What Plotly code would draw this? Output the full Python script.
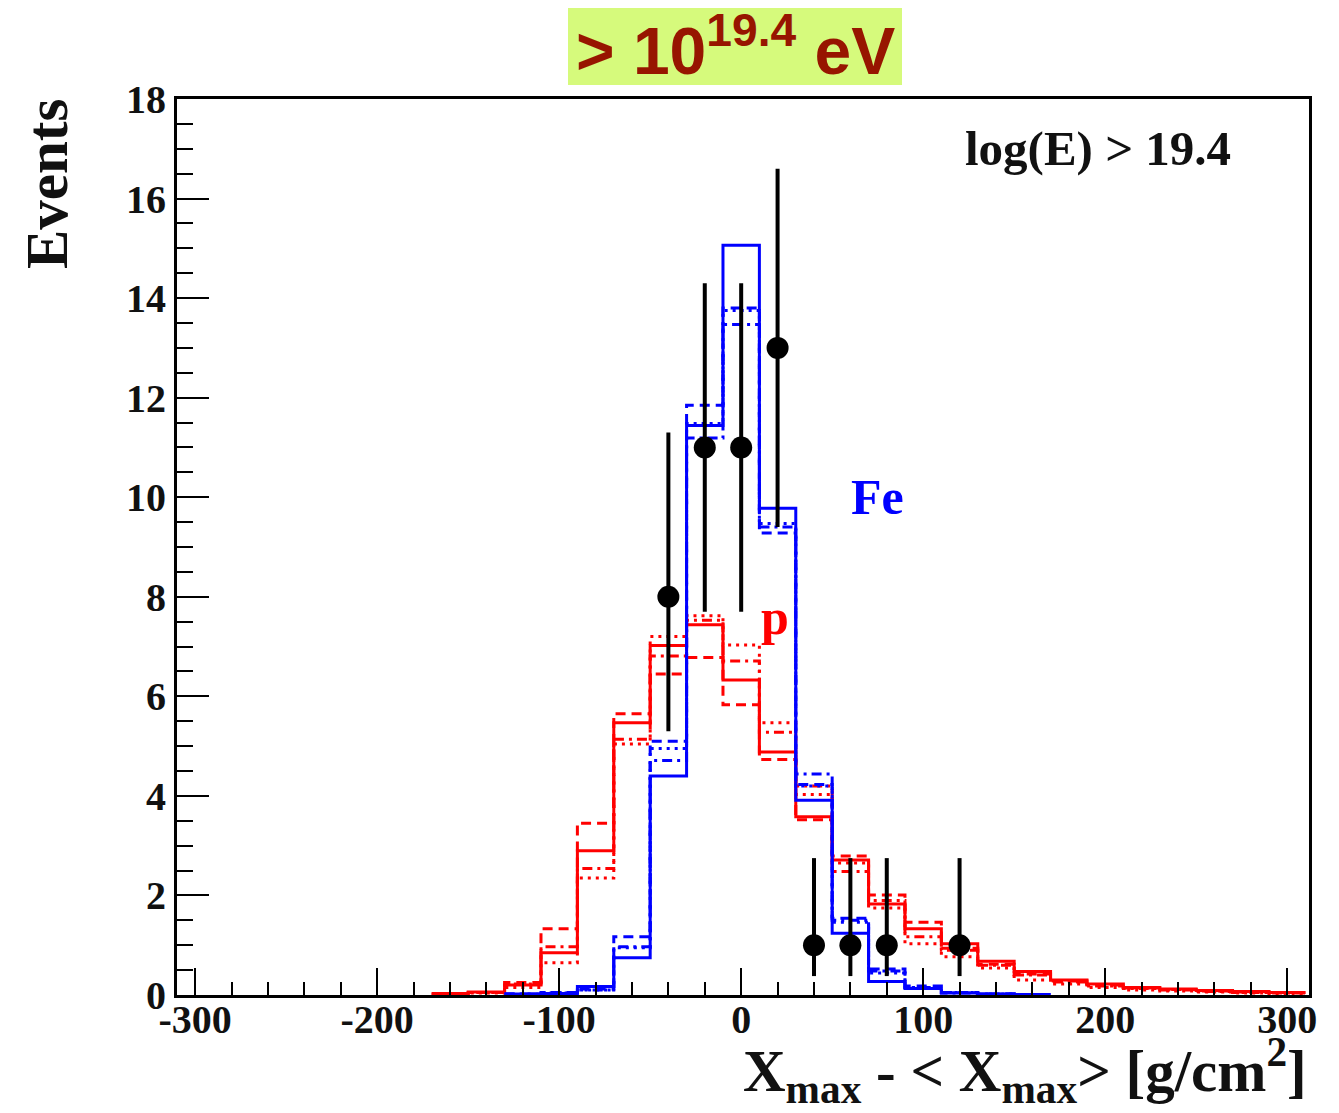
import plotly.graph_objects as go

# ---------------- data ----------------
p_centers = [-160, -140, -120, -100, -80, -60, -40, -20, 0, 20, 40, 60, 80,
             100, 120, 140, 160, 180, 200, 220, 240, 260, 280, 300]
p_solid = [0.03, 0.06, 0.20, 0.85, 2.90, 5.47, 7.02, 7.44, 6.33, 4.88, 3.58, 2.71, 1.83,
           1.33, 1.03, 0.68, 0.47, 0.30, 0.22, 0.15, 0.12, 0.09, 0.07, 0.05]
p_dashed = [0.02, 0.05, 0.25, 1.33, 3.45, 5.65, 6.45, 6.78, 5.83, 4.73, 3.52, 2.79, 2.01,
            1.46, 0.94, 0.62, 0.42, 0.28, 0.20, 0.14, 0.11, 0.08, 0.06, 0.05]
p_dashdot = [0.02, 0.05, 0.22, 0.97, 2.54, 5.14, 6.81, 7.53, 6.71, 5.28, 4.20, 2.48, 1.90,
             1.17, 0.90, 0.60, 0.40, 0.26, 0.18, 0.13, 0.10, 0.07, 0.05, 0.04]
p_dotted = [0.02, 0.04, 0.15, 0.65, 2.35, 5.04, 7.20, 7.62, 7.03, 5.47, 4.03, 2.65, 1.75,
            1.03, 0.77, 0.54, 0.30, 0.22, 0.15, 0.10, 0.08, 0.06, 0.04, 0.03]

fe_centers = [-120, -100, -80, -60, -40, -20, 0, 20, 40, 60, 80, 100, 120, 140, 160]
fe_solid = [0.02, 0.03, 0.17, 0.75, 4.40, 11.44, 15.06, 9.78, 3.91, 1.24, 0.27, 0.13, 0.04, 0.02, 0.01]
fe_dashed = [0.02, 0.05, 0.12, 1.17, 5.10, 11.85, 13.80, 9.28, 4.23, 1.54, 0.52, 0.18, 0.05, 0.02, 0.01]
fe_dashdot = [0.02, 0.04, 0.10, 0.97, 4.71, 11.19, 13.47, 9.40, 4.44, 1.50, 0.48, 0.15, 0.04, 0.02, 0.01]
fe_dotted = [0.01, 0.05, 0.10, 0.95, 4.95, 11.48, 13.75, 9.47, 4.20, 1.46, 0.44, 0.15, 0.05, 0.02, 0.01]

data_x = [-40, -20, 0, 20, 40, 60, 80, 120]
data_y = [8, 11, 11, 13, 1, 1, 1, 1]
data_err_up = [3.3, 3.3, 3.3, 3.6, 1.75, 1.75, 1.75, 1.75]
data_err_down = [2.7, 3.3, 3.3, 3.6, 0.62, 0.62, 0.62, 0.62]

x_tickvals = [-300, -200, -100, 0, 100, 200, 300]
x_ticktext = ["-300", "-200", "-100", "0", "100", "200", "300"]

bin_width = 20

RED = "#ff0000"
BLUE = "#0000ff"
SERIF = "Liberation Serif"

DASH = "10px,6px"
DOT = "3px,5px"
DASHDOT = "10px,5px,3px,5px"


def step_xy(centers, vals):
    half = bin_width / 2
    xs = [c - half for c in centers] + [centers[-1] + half]
    ys = list(vals) + [vals[-1]]
    return xs, ys


fig = go.Figure()


def add_hist(centers, vals, color, dash):
    xs, ys = step_xy(centers, vals)
    fig.add_trace(go.Scatter(x=xs, y=ys, mode="lines", line_shape="hv",
                             line=dict(color=color, width=3, dash=dash),
                             hoverinfo="skip", showlegend=False))


for vals, dash in [(p_dotted, DOT), (p_dashdot, DASHDOT), (p_dashed, DASH), (p_solid, "solid")]:
    add_hist(p_centers, vals, RED, dash)
for vals, dash in [(fe_dotted, DOT), (fe_dashdot, DASHDOT), (fe_dashed, DASH), (fe_solid, "solid")]:
    add_hist(fe_centers, vals, BLUE, dash)

fig.add_trace(go.Scatter(
    x=data_x, y=data_y, mode="markers",
    marker=dict(color="black", size=22),
    error_y=dict(type="data", symmetric=False, array=data_err_up,
                 arrayminus=data_err_down, color="black", thickness=4, width=0),
    showlegend=False))

axis_font = dict(family=SERIF, size=40, color="#111111", weight="bold")

fig.update_xaxes(range=[-310, 312], showgrid=False, zeroline=False,
                 showline=True, linecolor="black", linewidth=3, mirror=True,
                 ticks="inside", ticklen=27, tickwidth=2, tickcolor="black",
                 tickmode="array", tickvals=x_tickvals, ticktext=x_ticktext,
                 tickfont=axis_font, ticklabelstandoff=-13,
                 minor=dict(dtick=20, tick0=0, ticklen=13, tickwidth=2, tickcolor="black", ticks="inside"))
fig.update_yaxes(range=[0, 18], showgrid=False, zeroline=False,
                 showline=True, linecolor="black", linewidth=3, mirror=True,
                 ticks="inside", ticklen=32, tickwidth=2, tickcolor="black",
                 dtick=2, tick0=0, tickfont=axis_font,
                 minor=dict(dtick=0.5, ticklen=16, tickwidth=2, tickcolor="black", ticks="inside"))

# title box
fig.add_shape(type="rect", xref="paper", yref="paper",
              x0=(568 - 177) / 1132, x1=(902 - 177) / 1132,
              y0=(995 - 85) / 896, y1=(995 - 8) / 896,
              fillcolor="#d6fa7c", line=dict(width=0), layer="below")

annotations = [
    dict(text="> 10<sup>19.4</sup> eV", xref="paper", yref="paper",
         x=(735 - 177) / 1132, y=(995 - 46) / 896, xanchor="center", yanchor="middle",
         showarrow=False, font=dict(family="Liberation Sans", size=66, color="#971500", weight="bold")),
    dict(text="log(E) > 19.4", xref="x", yref="y", x=196, y=17.0,
         xanchor="center", yanchor="middle", showarrow=False,
         font=dict(family=SERIF, size=49, color="#111111", weight="bold")),
    dict(text="Fe", xref="x", yref="y", x=75, y=10.0,
         xanchor="center", yanchor="middle", showarrow=False,
         font=dict(family=SERIF, size=50, color=BLUE, weight="bold")),
    dict(text="p", xref="x", yref="y", x=18.7, y=7.6,
         xanchor="center", yanchor="middle", showarrow=False,
         font=dict(family=SERIF, size=50, color=RED, weight="bold")),
    dict(text="Events", xref="paper", yref="paper", x=(47 - 177) / 1132, y=(995 - 184) / 896,
         xanchor="center", yanchor="middle", textangle=-90, showarrow=False,
         font=dict(family=SERIF, size=59, color="#111111", weight="bold")),
    dict(text="X<sub>max</sub> - < X<sub>max</sub>> [g/cm<sup>2</sup>]", xref="paper", yref="paper",
         x=1.0, y=(995 - 1070) / 896, xanchor="right", yanchor="middle", showarrow=False,
         font=dict(family=SERIF, size=59, color="#111111", weight="bold")),
]

fig.update_layout(width=1339, height=1113,
                  margin=dict(l=177, r=30, t=99, b=118),
                  paper_bgcolor="white", plot_bgcolor="white",
                  showlegend=False, annotations=annotations)

fig.write_html("out.html")
